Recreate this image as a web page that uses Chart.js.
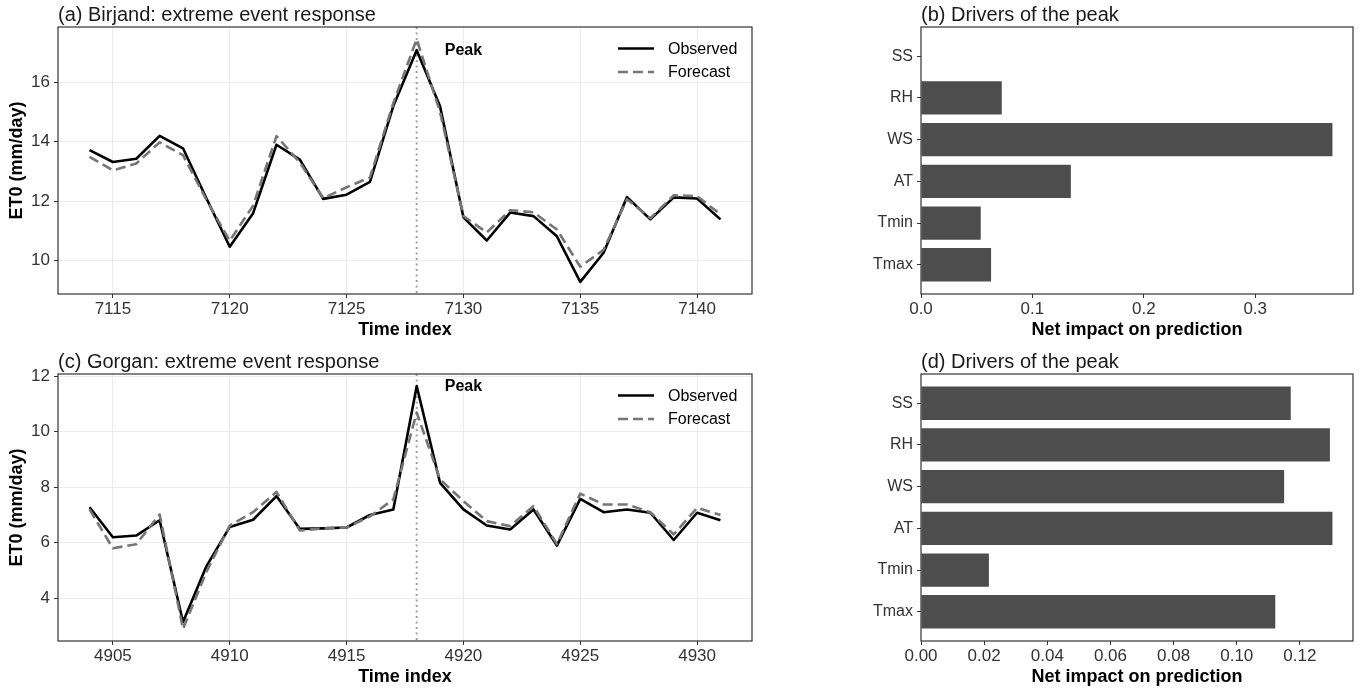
<!DOCTYPE html>
<html>
<head>
<meta charset="utf-8">
<title>Extreme event response</title>
<script src="https://cdn.jsdelivr.net/npm/chart.js@4.4.1/dist/chart.umd.min.js"></script>
<style>
html, body { margin: 0; padding: 0; background: #fff; }
#wrap { position: relative; width: 1365px; height: 691px; overflow: hidden; }
#wrap canvas { position: absolute; }
</style>
</head>
<body>
<div id="wrap">
  <canvas id="chartA" width="780" height="345" style="left:0;top:0"></canvas>
  <canvas id="chartB" width="525" height="345" style="left:840px;top:0"></canvas>
  <canvas id="chartC" width="780" height="346" style="left:0;top:345px"></canvas>
  <canvas id="chartD" width="525" height="346" style="left:840px;top:345px"></canvas>
</div>
<script>
// --- Data ---
const timeBirjand = [7114, 7115, 7116, 7117, 7118, 7119, 7120, 7121, 7122, 7123, 7124, 7125, 7126, 7127,
  7128, 7129, 7130, 7131, 7132, 7133, 7134, 7135, 7136, 7137, 7138, 7139, 7140, 7141];
const obsBirjand = [13.72, 13.32, 13.43, 14.2, 13.78, 12.1, 10.47, 11.6, 13.9, 13.4, 12.08, 12.22, 12.65, 15.2,
  17.08, 15.19, 11.46, 10.68, 11.62, 11.5, 10.82, 9.29, 10.27, 12.14, 11.39, 12.13, 12.09, 11.39];
const fcBirjand = [13.49, 13.04, 13.27, 13.98, 13.55, 12.05, 10.67, 11.85, 14.19, 13.3, 12.1, 12.47, 12.8, 15.3,
  17.45, 15.0, 11.5, 10.95, 11.7, 11.63, 11.05, 9.8, 10.37, 12.07, 11.43, 12.2, 12.17, 11.56];

const timeGorgan = [4904, 4905, 4906, 4907, 4908, 4909, 4910, 4911, 4912, 4913, 4914, 4915, 4916, 4917,
  4918, 4919, 4920, 4921, 4922, 4923, 4924, 4925, 4926, 4927, 4928, 4929, 4930, 4931];
const obsGorgan = [7.28, 6.2, 6.26, 6.81, 3.15, 5.15, 6.57, 6.83, 7.68, 6.5, 6.52, 6.55, 7.0, 7.2,
  11.64, 8.16, 7.2, 6.62, 6.48, 7.2, 5.9, 7.58, 7.1, 7.2, 7.08, 6.1, 7.08, 6.81];
const fcGorgan = [7.2, 5.8, 5.95, 7.02, 2.9, 4.95, 6.62, 7.1, 7.83, 6.44, 6.52, 6.55, 6.95, 7.56,
  10.69, 8.28, 7.5, 6.78, 6.6, 7.32, 5.95, 7.77, 7.38, 7.38, 7.1, 6.3, 7.26, 7.0];

const drivers = ['SS', 'RH', 'WS', 'AT', 'Tmin', 'Tmax'];
const impactBirjand = [0, 0.0725, 0.3693, 0.1345, 0.0536, 0.0629];
const impactGorgan = [0.1171, 0.1295, 0.1150, 0.1303, 0.0215, 0.1122];

// --- Shared look ---
const FONT = '"Liberation Sans", Arial, Helvetica, sans-serif';
Chart.defaults.font.family = FONT;
Chart.defaults.color = '#333';
Chart.defaults.animation = false;

// frame + panel title (ggplot-style box around plot area)
const panelFrame = {
  id: 'panelFrame',
  afterDraw(chart, args, opts) {
    const { ctx, chartArea: a } = chart;
    ctx.save();
    ctx.strokeStyle = '#333';
    ctx.lineWidth = 1.2;
    ctx.strokeRect(a.left, a.top, a.right - a.left, a.bottom - a.top);
    ctx.fillStyle = '#1a1a1a';
    ctx.font = '20px ' + FONT;
    ctx.textAlign = 'left';
    ctx.textBaseline = 'middle';
    ctx.fillText(opts.title, a.left, a.top - 12);
    ctx.restore();
  }
};

// dotted peak line, "Peak" label and in-panel legend
const peakMarks = {
  id: 'peakMarks',
  beforeDatasetsDraw(chart, args, opts) {
    if (!opts.time) return;
    const { ctx, chartArea: a, scales: { x } } = chart;
    const px = x.getPixelForValue(opts.time);
    ctx.save();
    ctx.strokeStyle = '#a0a0a0';
    ctx.lineWidth = 2;
    ctx.setLineDash([2, 3.5]);
    ctx.beginPath();
    ctx.moveTo(px, a.top);
    ctx.lineTo(px, a.bottom);
    ctx.stroke();
    ctx.restore();
  },
  afterDatasetsDraw(chart, args, opts) {
    if (!opts.time) return;
    const { ctx, chartArea: a, scales: { x, y } } = chart;
    ctx.save();
    ctx.fillStyle = '#000';
    ctx.font = 'bold 16px ' + FONT;
    ctx.textAlign = 'left';
    ctx.textBaseline = 'middle';
    ctx.fillText('Peak', x.getPixelForValue(opts.time + 1.2), y.getPixelForValue(opts.value));

    ctx.font = '16px ' + FONT;
    chart.data.datasets.forEach((ds, i) => {
      const ly = a.top + 21.5 + i * 23.5;
      ctx.strokeStyle = ds.borderColor;
      ctx.lineWidth = ds.borderWidth;
      ctx.setLineDash(ds.borderDash || []);
      ctx.beginPath();
      ctx.moveTo(a.right - 134, ly);
      ctx.lineTo(a.right - 98, ly);
      ctx.stroke();
      ctx.fillText(ds.label, a.right - 84, ly + 1);
    });
    ctx.restore();
  }
};

function lineChart(id, time, obs, fc, title, padTop, xAxisH, titlePadBottom) {
  const all = obs.concat(fc);
  const lo = Math.min(...all), hi = Math.max(...all);
  const ey = (hi - lo) * 0.05;
  const ex = (time[time.length - 1] - time[0]) * 0.05;
  const peakIdx = obs.indexOf(Math.max(...obs));

  return new Chart(document.getElementById(id), {
    type: 'line',
    data: {
      datasets: [
        {
          label: 'Observed',
          data: time.map((t, i) => ({ x: t, y: obs[i] })),
          borderColor: '#000',
          borderWidth: 2.6,
          order: 1
        },
        {
          label: 'Forecast',
          data: time.map((t, i) => ({ x: t, y: fc[i] })),
          borderColor: '#767676',
          borderWidth: 2.6,
          borderDash: [10, 5],
          order: 0
        }
      ]
    },
    options: {
      responsive: false,
      events: [],
      layout: { padding: { top: padTop, right: 28, bottom: 0, left: 0 } },
      elements: {
        point: { radius: 0 },
        line: { tension: 0, borderJoinStyle: 'round', borderCapStyle: 'butt' }
      },
      plugins: {
        legend: { display: false },
        tooltip: { enabled: false },
        panelFrame: { title: title },
        peakMarks: { time: time[peakIdx], value: obs[peakIdx] }
      },
      scales: {
        x: {
          type: 'linear',
          min: time[0] - ex,
          max: time[time.length - 1] + ex,
          border: { display: false },
          grid: { color: '#ebebeb', tickColor: '#333', tickLength: 4, lineWidth: 1 },
          ticks: {
            stepSize: 5, includeBounds: false, maxRotation: 0, padding: 1,
            color: '#333', font: { size: 17 },
            callback: v => String(v)
          },
          title: {
            display: true, text: 'Time index', color: '#000',
            font: { size: 18, weight: 'bold' }, padding: { top: 0, bottom: titlePadBottom }
          },
          afterFit(s) { s.height = xAxisH; }
        },
        y: {
          type: 'linear',
          min: lo - ey,
          max: hi + ey,
          border: { display: false },
          grid: { color: '#ebebeb', tickColor: '#333', tickLength: 4, lineWidth: 1 },
          ticks: {
            stepSize: 2, includeBounds: false, padding: 4,
            color: '#333', font: { size: 17 },
            callback: v => String(v)
          },
          title: {
            display: true, text: 'ET0 (mm/day)', color: '#000',
            font: { size: 18, weight: 'bold' }, padding: { top: 6, bottom: 0 }
          },
          afterFit(s) { s.width = 58; }
        }
      }
    },
    plugins: [panelFrame, peakMarks]
  });
}

function barChart(id, values, step, decimals, title, padTop, xAxisH, titlePadBottom) {
  const pos = drivers.map((d, i) => i + 1);
  return new Chart(document.getElementById(id), {
    type: 'bar',
    data: {
      datasets: [{
        data: values.map((v, i) => ({ x: v, y: pos[i] })),
        backgroundColor: '#4d4d4d',
        borderWidth: 0,
        barPercentage: 0.8,
        categoryPercentage: 1
      }]
    },
    options: {
      responsive: false,
      events: [],
      indexAxis: 'y',
      layout: { padding: { top: padTop, right: 12, bottom: 0, left: 0 } },
      plugins: {
        legend: { display: false },
        tooltip: { enabled: false },
        panelFrame: { title: title },
        peakMarks: {}
      },
      scales: {
        x: {
          type: 'linear',
          min: 0,
          max: Math.max(...values) * 1.05,
          border: { display: false },
          grid: { drawOnChartArea: false, tickColor: '#333', tickLength: 4 },
          ticks: {
            stepSize: step, includeBounds: false, maxRotation: 0, padding: 1,
            color: '#333', font: { size: 17 },
            callback: v => Number(v).toFixed(decimals)
          },
          title: {
            display: true, text: 'Net impact on prediction', color: '#000',
            font: { size: 18, weight: 'bold' }, padding: { top: 0, bottom: titlePadBottom }
          },
          afterFit(s) { s.height = xAxisH; }
        },
        y: {
          type: 'linear',
          reverse: true,
          offset: false,
          min: 0.3,
          max: drivers.length + 0.7,
          border: { display: false },
          grid: { offset: false, drawOnChartArea: false, tickColor: '#333', tickLength: 4 },
          afterBuildTicks(s) { s.ticks = pos.map(p => ({ value: p })); },
          ticks: {
            autoSkip: false, padding: 4,
            color: '#333', font: { size: 16 },
            callback: v => drivers[v - 1]
          },
          afterFit(s) { s.width = 81; }
        }
      }
    },
    plugins: [panelFrame]
  });
}

lineChart('chartA', timeBirjand, obsBirjand, fcBirjand, '(a) Birjand: extreme event response', 27, 51, 4);
lineChart('chartC', timeGorgan, obsGorgan, fcGorgan, '(c) Gorgan: extreme event response', 29, 50, 3);
barChart('chartB', impactBirjand, 0.1, 1, '(b) Drivers of the peak', 27, 51, 4);
barChart('chartD', impactGorgan, 0.02, 2, '(d) Drivers of the peak', 29, 50, 3);
</script>
</body>
</html>
